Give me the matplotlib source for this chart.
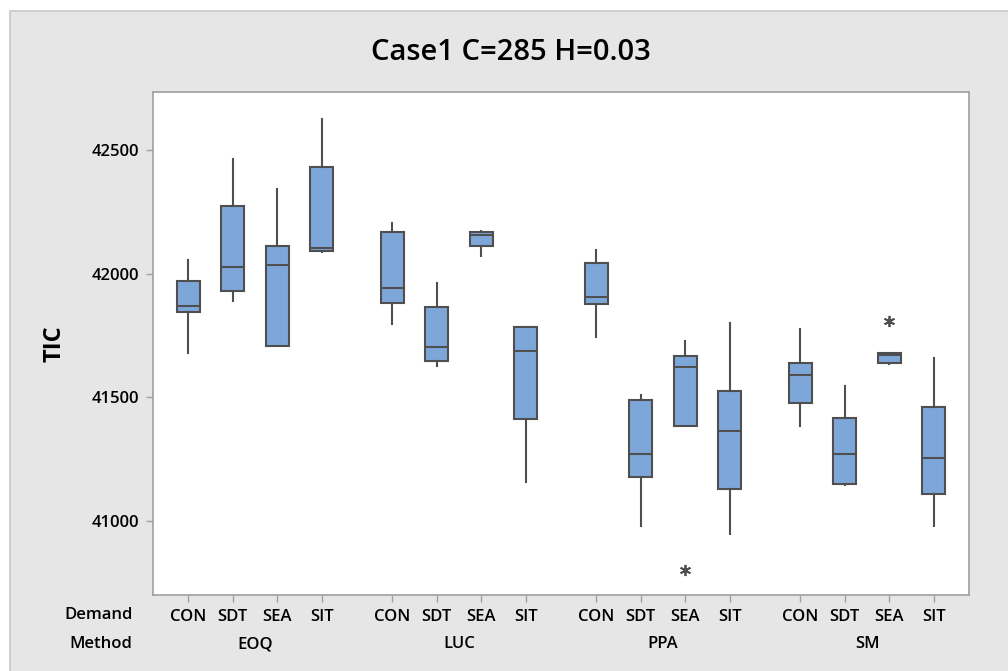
import numpy as np
import matplotlib
matplotlib.use("Agg")
import matplotlib.pyplot as plt
from matplotlib.patches import Rectangle

# Values
methods = ["EOQ", "LUC", "PPA", "SM"]
demands = ["CON", "SDT", "SEA", "SIT"]

whis_hi = [42054, 42464, 42342, 42627,
           42203, 41961, 42174, 41785,
           42095, 41508, 41729, 41799,
           41777, 41545, 41679, 41657]
q3 = [41970, 42275, 42113, 42431,
      42168, 41865, 42170, 41785,
      42042, 41489, 41667, 41525,
      41638, 41417, 41679, 41462]
medians = [41870, 42027, 42035, 42104,
           41942, 41702, 42155, 41688,
           41905, 41270, 41623, 41362,
           41589, 41270, 41671, 41255]
q1 = [41843, 41928, 41708, 42091,
      41880, 41645, 42113, 41412,
      41878, 41177, 41382, 41129,
      41475, 41149, 41638, 41107]
whis_lo = [41680, 41888, 41708, 42086,
           41795, 41625, 42071, 41157,
           41745, 40980, 41382, 40945,
           41384, 41144, 41634, 40980]
outliers = [[], [], [], [],
            [], [], [], [],
            [], [], [40801], [],
            [], [], [41808], []]

yticks = [41000, 41500, 42000, 42500]

group_step = 4.58

def BuildStats():
    stats = []
    for i in range(len(medians)):
        stats.append({"whislo": whis_lo[i], "q1": q1[i], "med": medians[i],
                      "q3": q3[i], "whishi": whis_hi[i], "fliers": outliers[i]})
    return stats

def PlotBoxes():
    plt.rcParams['font.family'] = ['Open Sans', 'DejaVu Sans']
    fig = plt.figure(figsize=(10.08, 6.71), dpi=100)
    fig.patch.set_facecolor("white")
    # Gray panel behind the chart
    fig.patches.append(Rectangle((10 / 1008, -0.1), 1.2, (671 - 11) / 671 + 0.1,
                                 transform=fig.transFigure, facecolor="#e6e6e6",
                                 edgecolor="#c8c8c8", linewidth=1.2, zorder=-1))
    ax = fig.add_axes([153 / 1008, (671 - 595) / 671, (969 - 153) / 1008, (595 - 92) / 671])
    ax.set_facecolor("white")

    positions = []
    for g in range(len(methods)):
        for d in range(len(demands)):
            positions.append(g * group_step + d)

    edge = "#4f4f4f"
    ax.bxp(BuildStats(), positions=positions, widths=0.52, patch_artist=True,
           showcaps=False,
           boxprops=dict(facecolor="#7da7d9", edgecolor=edge, linewidth=1.5),
           medianprops=dict(color=edge, linewidth=1.5),
           whiskerprops=dict(color=edge, linewidth=1.5),
           flierprops=dict(marker=(6, 2, 0), markersize=8, markeredgecolor=edge,
                           markeredgewidth=1.3, linestyle="none"))

    ax.set_xlim(-0.79, positions[-1] + 0.79)
    ax.set_ylim(40700, 42735)
    ax.set_yticks(yticks)
    ax.set_yticklabels([str(v) for v in yticks], fontsize=12, fontweight="semibold")
    ax.set_xticks(positions)
    ax.set_xticklabels(demands * len(methods), fontsize=12, fontweight="semibold")
    ax.tick_params(axis="both", direction="out", length=5, color="#a0a0a0", width=1, pad=5)
    for s in ax.spines.values():
        s.set_color("#a0a0a0")
        s.set_linewidth(1.2)

    # Second row of x labels: Method
    for g, m in enumerate(methods):
        cx = g * group_step + 1.5
        ax.text(cx, -0.098, m, transform=ax.get_xaxis_transform(), ha="center",
                va="center", fontsize=12, fontweight="semibold")
    ax.text(-0.025, -0.040, "Demand", transform=ax.transAxes, ha="right", va="center",
            fontsize=12, fontweight="semibold")
    ax.text(-0.025, -0.098, "Method", transform=ax.transAxes, ha="right", va="center",
            fontsize=12, fontweight="semibold")

    ax.set_ylabel("TIC", fontsize=17, fontweight="bold", labelpad=18)
    fig.text(511 / 1008, 1 - 53 / 671, "Case1 C=285 H=0.03", ha="center", va="center",
             fontsize=21, fontweight="semibold")
    fig.savefig("out.png", dpi=100)

if __name__ == "__main__":
    PlotBoxes()
